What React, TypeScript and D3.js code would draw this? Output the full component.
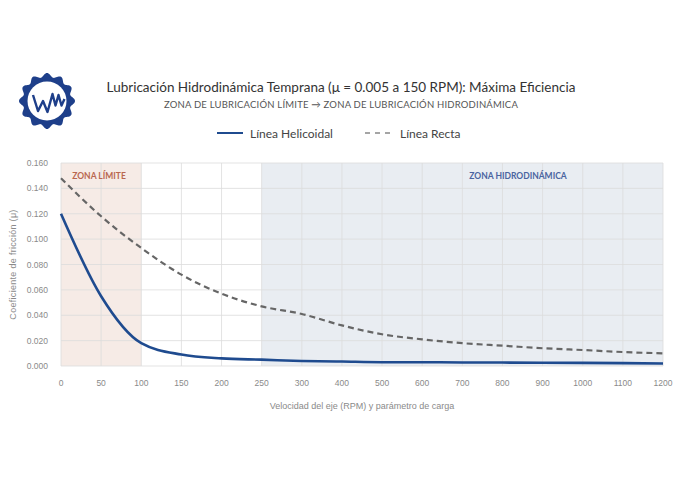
import React from 'react';
import * as d3 from 'd3';

// x axis categories (RPM) - evenly spaced on the chart
const rpmLabels = ['0', '50', '100', '150', '200', '250', '300', '400', '500', '600', '700', '800', '900', '1000', '1100', '1200'];
const helicoidal = [0.12, 0.055, 0.018, 0.009, 0.006, 0.005, 0.004, 0.0035, 0.003, 0.003, 0.0028, 0.0027, 0.0026, 0.0025, 0.0023, 0.002];
const recta = [0.148, 0.118, 0.093, 0.072, 0.057, 0.047, 0.041, 0.032, 0.025, 0.021, 0.018, 0.016, 0.014, 0.0126, 0.011, 0.01];
const yTicks = [0, 0.02, 0.04, 0.06, 0.08, 0.1, 0.12, 0.14, 0.16];

const zoneLimite = ['0', '100'];
const zoneHidro = ['250', '1200'];

const W = 682;
const H = 480;
const margin = { top: 163, right: 19, bottom: 114, left: 61 };

const NAVY = '#1f4b8f';
const FONT = 'Lato, "Noto Sans", sans-serif';
const AXFONT = '"Liberation Sans", Arial, sans-serif';

// logo gear outline
const gearPath = () => {
  const pts: [number, number][] = [];
  const n = 12;
  for (let i = 0; i <= 240; i++) {
    const a = (i / 240) * Math.PI * 2;
    const r = 26 + 2 * Math.cos(a * n);
    pts.push([Math.cos(a) * r, Math.sin(a) * r]);
  }
  return d3.line().curve(d3.curveLinearClosed)(pts) || '';
};

const wmPoints: [number, number][] = [
  [-14, -6], [-9, 10], [-4, 0], [0.5, 11], [5.5, -7], [8.5, 4.5], [11.5, -6], [14.5, 4.5], [17.5, -2],
];

const App: React.FC = () => {
  const x = d3.scalePoint<string>().domain(rpmLabels).range([margin.left, W - margin.right]);
  const y = d3.scaleLinear().domain([0, 0.16]).range([H - margin.bottom, margin.top]);

  const line = d3
    .line<number>()
    .x((_, i) => x(rpmLabels[i]) as number)
    .y((d) => y(d))
    .curve(d3.curveMonotoneX);

  const x0 = margin.left;
  const x1 = W - margin.right;
  const yTop = y(0.16);
  const yBot = y(0);

  return (
    <svg width={W} height={H} style={{ position: 'absolute', left: 0, top: 0, background: '#fff' }}>
      {/* logo */}
      <g transform="translate(47,101)">
        <path d={gearPath()} fill="#1e3f8a" />
        <circle r={19.5} fill="#fff" />
        <path
          d={d3.line()(wmPoints) || ''}
          fill="none"
          stroke="#1e3f8a"
          strokeWidth={2.4}
          strokeLinejoin="round"
        />
      </g>

      {/* titles */}
      <text x={341} y={92} textAnchor="middle" fontFamily={FONT} fontSize={13.5} fill="#333">
        Lubricación Hidrodinámica Temprana (μ = 0.005 a 150 RPM): Máxima Eficiencia
      </text>
      <text x={341} y={108} textAnchor="middle" fontFamily={FONT} fontSize={9.5} fill="#555" letterSpacing={0.2}>
        ZONA DE LUBRICACIÓN LÍMITE → ZONA DE LUBRICACIÓN HIDRODINÁMICA
      </text>

      {/* legend */}
      <g fontFamily={FONT} fontSize={12} fill="#444">
        <line x1={217} x2={243} y1={133} y2={133} stroke={NAVY} strokeWidth={2} />
        <text x={250} y={137.5}>Línea Helicoidal</text>
        <line x1={365} x2={391} y1={133} y2={133} stroke="#888" strokeWidth={1.3} strokeDasharray="5,5" />
        <text x={400} y={137.5}>Línea Recta</text>
      </g>

      {/* zones */}
      <rect
        x={x(zoneLimite[0])}
        y={yTop}
        width={(x(zoneLimite[1]) as number) - (x(zoneLimite[0]) as number)}
        height={yBot - yTop}
        fill="#f6ebe6"
      />
      <rect
        x={x(zoneHidro[0])}
        y={yTop}
        width={(x(zoneHidro[1]) as number) - (x(zoneHidro[0]) as number)}
        height={yBot - yTop}
        fill="#e9edf2"
      />

      {/* grid */}
      <g stroke="#dcdcdc" strokeWidth={0.8}>
        {yTicks.map((t) => (
          <line key={t} x1={x0} x2={x1} y1={y(t)} y2={y(t)} />
        ))}
        {rpmLabels.map((c) => (
          <line key={c} x1={x(c)} x2={x(c)} y1={yTop} y2={yBot} />
        ))}
      </g>

      {/* zone labels */}
      <text x={99} y={179} textAnchor="middle" fontFamily={FONT} fontWeight={700} fontSize={8.5} fill="#b9674f">
        ZONA LÍMITE
      </text>
      <text x={518} y={179} textAnchor="middle" fontFamily={FONT} fontWeight={700} fontSize={8.5} fill="#4a64a0">
        ZONA HIDRODINÁMICA
      </text>

      {/* axes labels */}
      <g fontFamily={AXFONT} fontSize={8.5} fill="#8a8a8a">
        {yTicks.map((t) => (
          <text key={t} x={48} y={y(t) + 3} textAnchor="end">
            {t.toFixed(3)}
          </text>
        ))}
        {rpmLabels.map((c) => (
          <text key={c} x={x(c)} y={386} textAnchor="middle">
            {c}
          </text>
        ))}
      </g>
      <text
        transform={`translate(16,${(yTop + yBot) / 2}) rotate(-90)`}
        textAnchor="middle"
        fontFamily={AXFONT}
        fontSize={9}
        fill="#8a8a8a"
        letterSpacing={0.3}
      >
        Coeficiente de fricción (μ)
      </text>
      <text x={(x0 + x1) / 2} y={409} textAnchor="middle" fontFamily={AXFONT} fontSize={9} fill="#8a8a8a">
        Velocidad del eje (RPM) y parámetro de carga
      </text>

      {/* series */}
      <path d={line(recta) || ''} fill="none" stroke="#666" strokeWidth={2.2} strokeDasharray="6,4" />
      <path d={line(helicoidal) || ''} fill="none" stroke={NAVY} strokeWidth={2.6} />
    </svg>
  );
};

export default App;
